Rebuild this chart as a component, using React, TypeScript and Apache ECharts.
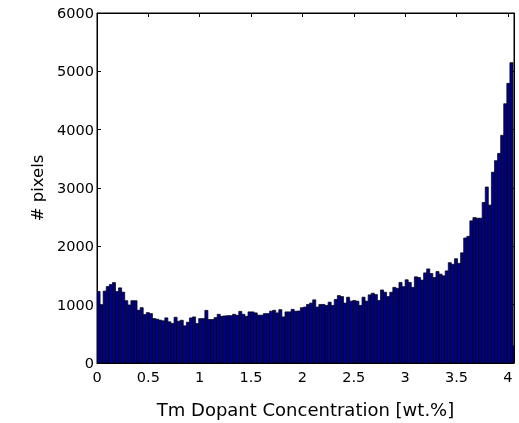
import React, { useEffect, useRef } from "react";
import * as echarts from "echarts";

// Histogram bin counts (bin width 0.03 wt.%, starting at 0)
const counts: number[] = [
  1227, 1000, 1232, 1311, 1345, 1379, 1227, 1288, 1215, 1068, 995, 1068, 1068, 905, 949, 831, 864, 847, 763, 752, 735, 723, 774, 706, 678,
  784, 716, 733, 637, 699, 773, 790, 677, 761, 761, 902, 745, 745, 778, 835, 801, 807, 812, 812, 835, 818, 885, 835, 801,
  876, 876, 859, 820, 820, 847, 847, 888, 904, 859, 915, 790, 876, 876, 920, 888,
  891, 948, 959, 1004, 1027, 1083, 959, 1004, 1004, 987, 1043, 987, 1089, 1156, 1139, 1027, 1128, 1060, 1072, 1060, 987, 1128, 1060,
  1168, 1196, 1173, 1072, 1252, 1213, 1139, 1213, 1297, 1280, 1382, 1308, 1427, 1382, 1297, 1478, 1466, 1421, 1545, 1613, 1534, 1466,
  1568, 1523, 1495, 1579, 1720, 1692, 1788, 1709, 1889,
  2143, 2171, 2437, 2493, 2482, 2482, 2752, 3017, 2707, 3271, 3469, 3593, 3903, 4445, 4794, 5149, 295,
];
const binWidth = 0.03;
const xMin = 0;
const xMax = 4.06;
const xInterval = 0.5;
const yMin = 0;
const yMax = 6000;
const yInterval = 1000;
const yTickLabels = ["0", "1000", "2000", "3000", "4000", "5000", "6000"];
const xTitle = "Tm Dopant Concentration [wt.%]";
const yTitle = "# pixels";

export default function App() {
  const ref = useRef<HTMLDivElement>(null);
  useEffect(() => {
    if (!ref.current) return;
    const chart = echarts.init(ref.current, undefined, { renderer: "svg" });
    const data = counts.map((c, i) => [i * binWidth, (i + 1) * binWidth, c]);
    const font = "DejaVu Sans";
    chart.setOption({
      animation: false,
      grid: { left: 97, top: 13, width: 417, height: 354, show: true, borderColor: "#000", borderWidth: 1 },
      xAxis: [
        {
          type: "value", min: xMin, max: xMax, interval: xInterval, position: "bottom",
          axisLine: { show: true, onZero: false, lineStyle: { color: "#000", width: 1 } },
          axisTick: { show: true, inside: true, length: 4, lineStyle: { color: "#000", width: 1 } },
          splitLine: { show: false },
          axisLabel: { showMaxLabel: false, color: "#000", fontFamily: font, fontSize: 14.5, margin: 6 },
          name: xTitle, nameLocation: "middle", nameGap: 37,
          nameTextStyle: { color: "#000", fontFamily: font, fontSize: 18 },
        },
        {
          type: "value", min: xMin, max: xMax, interval: xInterval, position: "top",
          axisLine: { show: true, onZero: false, lineStyle: { color: "#000", width: 1 } },
          axisTick: { show: true, inside: true, length: 4, lineStyle: { color: "#000", width: 1 } },
          splitLine: { show: false }, axisLabel: { show: false },
        },
      ],
      yAxis: [
        {
          type: "value", min: yMin, max: yMax, interval: yInterval, position: "left",
          axisLine: { show: true, onZero: false, lineStyle: { color: "#000", width: 1 } },
          axisTick: { show: true, inside: true, length: 4, lineStyle: { color: "#000", width: 1 } },
          splitLine: { show: false },
          axisLabel: { show: false },
        },
        {
          type: "value", min: yMin, max: yMax, interval: yInterval, position: "right",
          axisLine: { show: true, onZero: false, lineStyle: { color: "#000", width: 1 } },
          axisTick: { show: true, inside: true, length: 4, lineStyle: { color: "#000", width: 1 } },
          splitLine: { show: false }, axisLabel: { show: false },
        },
        {
          type: "category", data: yTickLabels, boundaryGap: false, position: "left",
          axisLine: { show: false, onZero: false },
          axisTick: { show: false },
          splitLine: { show: false },
          axisLabel: { show: true, interval: 0, color: "#000", fontFamily: font, fontSize: 14.5, margin: 3 },
          name: yTitle, nameLocation: "middle", nameGap: 50, nameRotate: 90,
          nameTextStyle: { color: "#000", fontFamily: font, fontSize: 16.5 },
        },
      ],
      series: [
        {
          type: "custom",
          clip: true,
          xAxisIndex: 0,
          yAxisIndex: 0,
          data,
          renderItem: (params: any, api: any) => {
            const p0 = api.coord([api.value(0), api.value(2)]);
            const p1 = api.coord([api.value(1), 0]);
            return {
              type: "rect",
              shape: { x: p0[0], y: p0[1], width: p1[0] - p0[0], height: p1[1] - p0[1] },
              style: { fill: "#00008F", stroke: "#000", lineWidth: 0.7 },
            };
          },
        },
      ],
    });
    return () => chart.dispose();
  }, []);
  return <div ref={ref} style={{ position: "fixed", left: 0, top: 0, width: 519, height: 423 }} />;
}
